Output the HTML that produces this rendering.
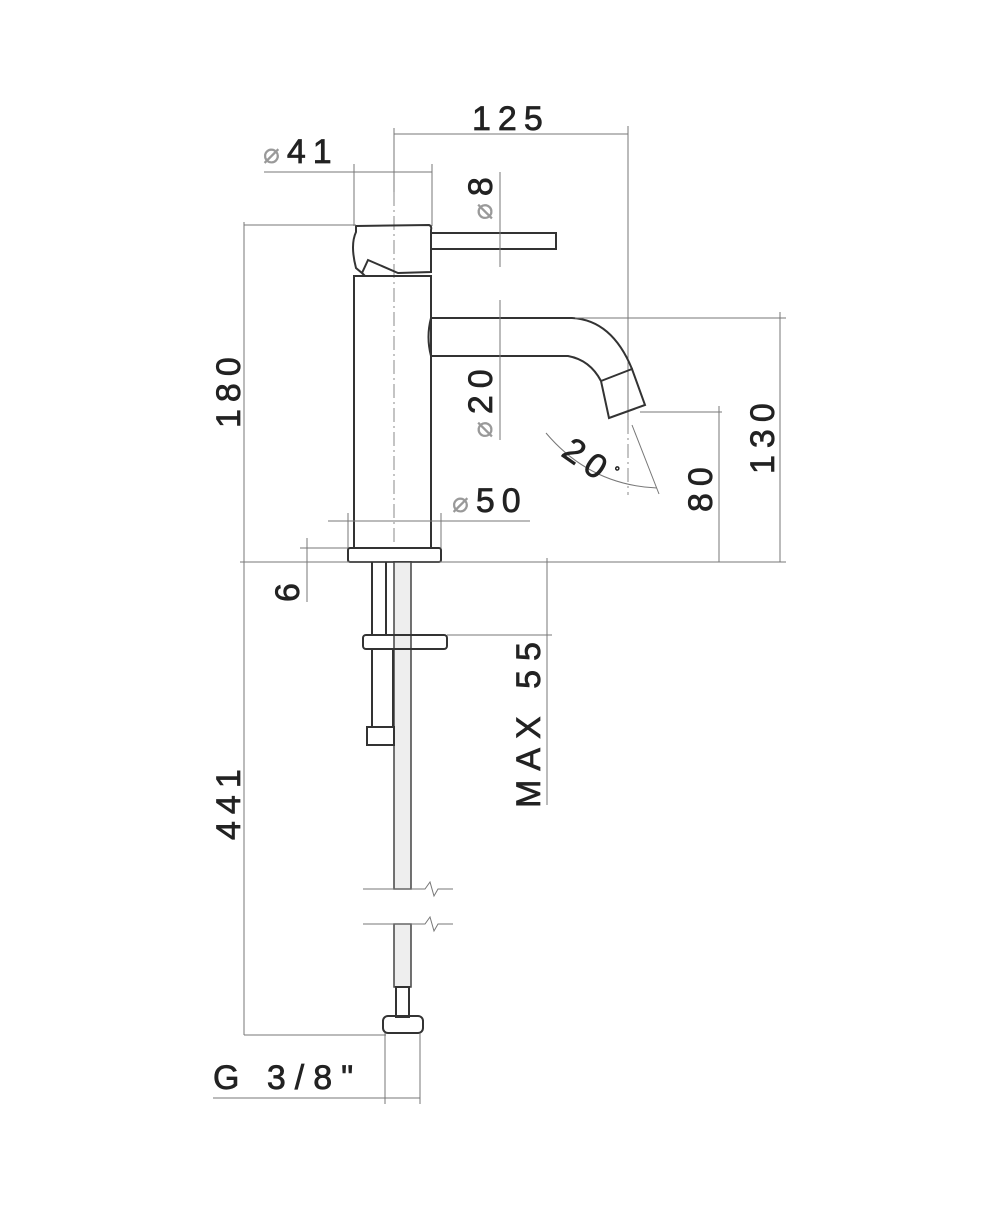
<!DOCTYPE html>
<html><head><meta charset="utf-8"><style>
html,body{margin:0;padding:0;background:#fff;}
svg{display:block}
text{font-family:"Liberation Sans",Arial,sans-serif;fill:#222;stroke:#222;stroke-width:0.7;font-size:34px;letter-spacing:7px}
.d{stroke:#777;stroke-width:1;fill:none}
.o{stroke:#333;stroke-width:2;fill:none}
.c{stroke:#888;stroke-width:1;fill:none;stroke-dasharray:14 4 2 4}
.ph{fill:#999;stroke:#999;stroke-width:0.3}
</style></head><body>
<svg width="1000" height="1208" viewBox="0 0 1000 1208" xmlns="http://www.w3.org/2000/svg">
<!-- 125 -->
<line class="d" x1="394" y1="134" x2="628" y2="134"/>
<line class="d" x1="394" y1="128" x2="394" y2="200"/>
<line class="d" x1="628" y1="126" x2="628" y2="420"/>
<line class="c" x1="628" y1="420" x2="628" y2="495"/>
<text x="472" y="130">125</text>
<!-- phi41 -->
<line class="d" x1="264" y1="172" x2="432" y2="172"/>
<line class="d" x1="354" y1="164" x2="354" y2="226"/>
<line class="d" x1="432" y1="164" x2="432" y2="226"/>
<text x="263" y="163"><tspan class="ph" font-size="28">⌀</tspan>41</text>
<!-- centerline -->
<line class="c" x1="394" y1="192" x2="394" y2="545"/>
<!-- handle head -->
<path class="o" d="M356,226 L429,225 Q432,226 431,230 L431,272 L398,273 L368,260 L362,273 L356,268 Q350,245 356,232 Z"/>
<path class="o" d="M362,273 L365,276"/>
<!-- lever -->
<rect class="o" x="431" y="233" width="125" height="16"/>
<!-- body -->
<rect class="o" x="354" y="276" width="77" height="272"/>
<rect class="o" x="348" y="548" width="93" height="14" rx="2"/>
<!-- spout -->
<path class="o" d="M431,318 L572,318 Q612,320 632,369 M431,356 L568,356 Q590,360 601,381 M431,318 Q426,337 431,356"/>
<path class="o" d="M601,381 L632,369 L645,405 L609,418 Z"/>
<!-- phi8 -->
<line class="d" x1="500" y1="172" x2="500" y2="267"/>
<text transform="translate(492,220) rotate(-90)"><tspan class="ph" font-size="28">⌀</tspan>8</text>
<!-- phi20 -->
<line class="d" x1="500" y1="300" x2="500" y2="440"/>
<text transform="translate(492,438) rotate(-90)"><tspan class="ph" font-size="28">⌀</tspan>20</text>
<!-- 130 -->
<line class="d" x1="575" y1="318" x2="786" y2="318"/>
<line class="d" x1="780" y1="312" x2="780" y2="562"/>
<text transform="translate(774,474) rotate(-90)">130</text>
<!-- 80 -->
<line class="d" x1="640" y1="412" x2="722" y2="412"/>
<line class="d" x1="719" y1="406" x2="719" y2="562"/>
<text transform="translate(712,512) rotate(-90)">80</text>
<!-- 20 deg -->
<path class="d" d="M546,433 Q590,485 657,488"/>
<line class="d" x1="632" y1="425" x2="659" y2="494"/>
<text transform="translate(560,455) rotate(35)">20<tspan font-size="14" dy="-14">°</tspan></text>
<!-- phi50 -->
<line class="d" x1="328" y1="521" x2="530" y2="521"/>
<line class="d" x1="348" y1="513" x2="348" y2="548"/>
<line class="d" x1="441" y1="513" x2="441" y2="548"/>
<text x="452" y="512"><tspan class="ph" font-size="28">⌀</tspan>50</text>
<!-- baseline -->
<line class="d" x1="240" y1="562" x2="786" y2="562"/>
<!-- 180 -->
<line class="d" x1="244" y1="225" x2="356" y2="225"/>
<line class="d" x1="244" y1="222" x2="244" y2="1035"/>
<text transform="translate(240,428) rotate(-90)">180</text>
<!-- 6 -->
<line class="d" x1="300" y1="548" x2="348" y2="548"/>
<line class="d" x1="307" y1="538" x2="307" y2="602"/>
<text transform="translate(299,602) rotate(-90)">6</text>
<!-- 441 -->
<text transform="translate(240,840) rotate(-90)">441</text>
<line class="d" x1="244" y1="1035" x2="386" y2="1035"/>
<!-- pipes -->
<line class="o" x1="372" y1="562" x2="372" y2="635" stroke-width="1.5"/>
<line class="o" x1="386" y1="562" x2="386" y2="635" stroke-width="1.5"/>
<rect x="394" y="562" width="17" height="327" fill="#eee" stroke="#444" stroke-width="1.5"/>
<rect x="394" y="924" width="17" height="63" fill="#eee" stroke="#444" stroke-width="1.5"/>
<rect class="o" x="363" y="635" width="84" height="14" rx="3" fill="#ccc"/>
<rect class="o" x="372" y="649" width="21" height="78"/>
<rect class="o" x="367" y="727" width="27" height="18"/>
<!-- breaks -->
<path class="d" d="M363,889 L425,889 L430,882 L434,896 L438,889 L453,889"/>
<path class="d" d="M363,924 L425,924 L430,917 L434,931 L438,924 L453,924"/>
<!-- bottom fitting -->
<rect class="o" x="396" y="987" width="13" height="30" stroke-width="1.5"/>
<rect class="o" x="383" y="1016" width="40" height="17" rx="5" fill="#ddd"/>
<!-- G 3/8 -->
<line class="d" x1="385" y1="1033" x2="385" y2="1104"/>
<line class="d" x1="420" y1="1033" x2="420" y2="1104"/>
<line class="d" x1="213" y1="1098" x2="420" y2="1098"/>
<text x="213" y="1089" style="letter-spacing:9px">G  3/8"</text>
<!-- MAX 55 -->
<line class="d" x1="447" y1="635" x2="552" y2="635"/>
<line class="d" x1="547" y1="558" x2="547" y2="805"/>
<text transform="translate(540,808) rotate(-90)" style="letter-spacing:9px">MAX  55</text>
</svg>
</body></html>
